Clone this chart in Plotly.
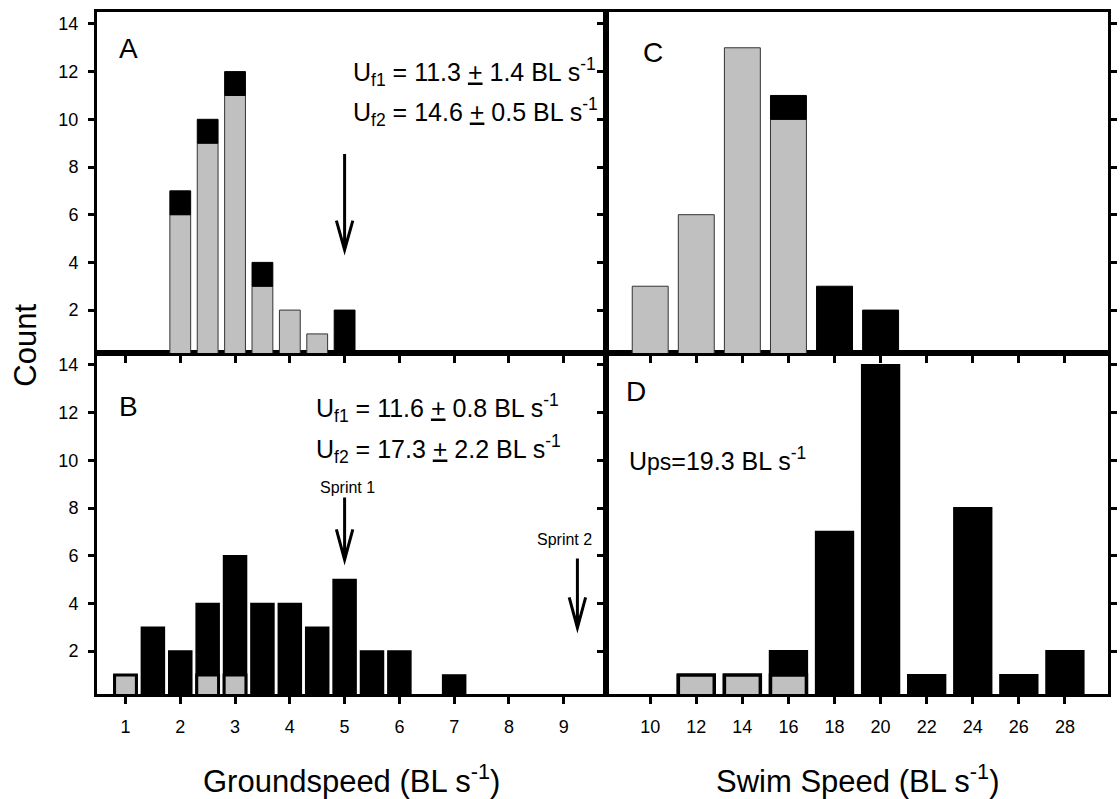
import plotly.graph_objects as go

# ---------------- data ----------------
# Panel A: groundspeed histogram (grey = first group, black = second group, stacked)
a_speed = [2, 2.5, 3, 3.5, 4, 4.5, 5]
a_grey = [6, 9, 11, 3, 2, 1, 0]
a_black = [1, 1, 1, 1, 0, 0, 2]

# Panel B: groundspeed histogram (black = total, grey = overlaid subset)
b_speed = [1, 1.5, 2, 2.5, 3, 3.5, 4, 4.5, 5, 5.5, 6, 7]
b_total = [1, 3, 2, 4, 6, 4, 4, 3, 5, 2, 2, 1]
b_grey = [1, 0, 0, 1, 1, 0, 0, 0, 0, 0, 0, 0]

# Panel C: swim speed histogram (stacked)
c_speed = [10, 12, 14, 16, 18, 20]
c_grey = [3, 6, 13, 10, 0, 0]
c_black = [0, 0, 0, 1, 3, 2]

# Panel D: swim speed histogram (black = total, grey = overlaid subset)
d_speed = [12, 14, 16, 18, 20, 22, 24, 26, 28]
d_total = [1, 1, 2, 7, 14, 1, 8, 1, 2]
d_grey = [1, 1, 1, 0, 0, 0, 0, 0, 0]

ground_ticks = [1, 2, 3, 4, 5, 6, 7, 8, 9]
swim_ticks = [10, 12, 14, 16, 18, 20, 22, 24, 26, 28]
count_ticks = [2, 4, 6, 8, 10, 12, 14]

GREY = "#c0c0c0"
FONT = "Liberation Sans, Arial, Helvetica, sans-serif"


def nonzero(xs, ys, base=None):
    keep = [i for i, v in enumerate(ys) if v > 0]
    out = dict(x=[xs[i] for i in keep], y=[ys[i] for i in keep])
    if base is not None:
        out["base"] = [base[i] for i in keep]
    return out


fig = go.Figure()

# ---- panel A (x2, y2): stacked grey + black ----
fig.add_trace(go.Bar(**nonzero(a_speed, a_grey), width=0.38, xaxis="x2", yaxis="y2",
                     marker=dict(color=GREY, line=dict(color="#333333", width=1))))
fig.add_trace(go.Bar(**nonzero(a_speed, a_black, base=a_grey), width=0.38, xaxis="x2", yaxis="y2",
                     marker=dict(color="black", line=dict(color="black", width=1))))

# ---- panel B (x, y): black totals with grey overlay ----
fig.add_trace(go.Bar(**nonzero(b_speed, b_total), width=0.42, xaxis="x", yaxis="y",
                     marker=dict(color="black", line=dict(color="black", width=1.5))))
fig.add_trace(go.Bar(**nonzero(b_speed, b_grey), width=0.398, xaxis="x", yaxis="y",
                     marker=dict(color=GREY, line=dict(color="black", width=3))))

# ---- panel C (x4, y4): stacked grey + black ----
fig.add_trace(go.Bar(**nonzero(c_speed, c_grey), width=1.56, xaxis="x4", yaxis="y4",
                     marker=dict(color=GREY, line=dict(color="#333333", width=1))))
fig.add_trace(go.Bar(**nonzero(c_speed, c_black, base=c_grey), width=1.56, xaxis="x4", yaxis="y4",
                     marker=dict(color="black", line=dict(color="black", width=1))))

# ---- panel D (x3, y3): black totals with grey overlay ----
fig.add_trace(go.Bar(**nonzero(d_speed, d_total), width=1.62, xaxis="x3", yaxis="y3",
                     marker=dict(color="black", line=dict(color="black", width=2))))
fig.add_trace(go.Bar(**nonzero(d_speed, d_grey), width=1.56, xaxis="x3", yaxis="y3",
                     marker=dict(color=GREY, line=dict(color="black", width=3.5))))

# ---------------- axes ----------------
SPLIT = 0.5039
YR = [0.2, 14.5]
tickfont = dict(family=FONT, size=18, color="black")
common = dict(showline=True, linecolor="black", linewidth=3, ticks="outside",
              tickcolor="black", tickwidth=2.5, showgrid=False, zeroline=False,
              tickfont=tickfont)

fig.update_layout(
    xaxis=dict(common, domain=[0, SPLIT], anchor="y", range=[0.48, 9.78],
               tickvals=ground_ticks, ticklen=7, mirror=True, ticklabelstandoff=7),
    yaxis=dict(common, domain=[0, 0.5], anchor="x", range=YR, tickvals=count_ticks,
               ticklen=6, mirror=True, ticklabelstandoff=6),
    xaxis2=dict(common, domain=[0, SPLIT], anchor="y2", range=[0.48, 9.78],
                tickvals=ground_ticks, ticklen=7, mirror=True, showticklabels=False),
    yaxis2=dict(common, domain=[0.5, 1], anchor="x2", range=YR, tickvals=count_ticks,
                ticklen=6, mirror=True, ticklabelstandoff=6),
    xaxis3=dict(common, domain=[SPLIT, 1], anchor="y3", range=[8.1, 29.87],
                tickvals=swim_ticks, ticklen=7, mirror=True, ticklabelstandoff=7),
    yaxis3=dict(common, domain=[0, 0.5], anchor="x3", range=YR, tickvals=count_ticks,
                ticklen=6, mirror="ticks", showticklabels=False),
    xaxis4=dict(common, domain=[SPLIT, 1], anchor="y4", range=[8.1, 29.87],
                tickvals=swim_ticks, ticklen=7, mirror=True, showticklabels=False),
    yaxis4=dict(common, domain=[0.5, 1], anchor="x4", range=YR, tickvals=count_ticks,
                ticklen=6, mirror="ticks", showticklabels=False),
)

# ---------------- arrows (V-headed) ----------------
# (xref, yref, x, tail y, tip y, head half-width in x units, head height in y units)
arrows = [
    ("x2", "y2", 5.0, 8.54, 4.52, 0.15, 1.23),
    ("x", "y", 5.0, 8.44, 5.83, 0.15, 1.27),
    ("x", "y", 9.25, 5.88, 2.98, 0.15, 1.27),
]
shapes = []
for xr, yr, x, y0, y1, hw, hh in arrows:
    path = (f"M {x},{y0} L {x},{y1} "
            f"M {x - hw},{y1 + hh} L {x},{y1} L {x + hw},{y1 + hh}")
    shapes.append(dict(type="path", xref=xr, yref=yr, path=path,
                       line=dict(color="black", width=3)))
fig.update_layout(shapes=shapes)

# ---------------- text ----------------
ann = []


def txt(text, x, y, xref, yref, size, xanchor="center", yanchor="middle", angle=0):
    ann.append(dict(text=text, x=x, y=y, xref=xref, yref=yref, showarrow=False,
                    xanchor=xanchor, yanchor=yanchor, textangle=angle,
                    font=dict(family=FONT, size=size, color="black")))


# panel letters
txt("A", 1.05, 12.95, "x2", "y2", 28)
txt("B", 1.05, 12.25, "x", "y", 28)
txt("C", 10.1, 12.8, "x4", "y4", 28)
txt("D", 9.4, 12.9, "x3", "y3", 28)

# velocity statistics
txt("U<sub>f1</sub> = 11.3 <u>+</u> 1.4 BL s<sup>-1</sup>", 5.11, 12.0, "x2", "y2", 25, xanchor="left")
txt("U<sub>f2</sub> = 14.6 <u>+</u> 0.5 BL s<sup>-1</sup>", 5.11, 10.3, "x2", "y2", 25, xanchor="left")
txt("U<sub>f1</sub> = 11.6 <u>+</u> 0.8 BL s<sup>-1</sup>", 4.45, 12.18, "x", "y", 25, xanchor="left")
txt("U<sub>f2</sub> = 17.3 <u>+</u> 2.2 BL s<sup>-1</sup>", 4.45, 10.48, "x", "y", 25, xanchor="left")
txt("U<span style='font-size:23px'>ps</span>=19.3 BL s<sup>-1</sup>", 8.99, 10.07, "x3", "y3", 25,
    xanchor="left")

# sprint labels
txt("Sprint 1", 5.05, 8.88, "x", "y", 16)
txt("Sprint 2", 9.02, 6.68, "x", "y", 16)

# axis titles
txt("Count", -0.0716, 0.5117, "paper", "paper", 31, angle=-90)
txt("Groundspeed (BL s<sup>-1</sup>)", 0.2515, -0.124, "paper", "paper", 31)
txt("Swim Speed (BL s<sup>-1</sup>)", 0.7520, -0.124, "paper", "paper", 31)

fig.update_layout(
    annotations=ann,
    barmode="overlay",
    showlegend=False,
    width=1120, height=799,
    margin=dict(l=97, r=3, t=12, b=105),
    paper_bgcolor="white", plot_bgcolor="white",
    font=dict(family=FONT, color="black"),
)

fig.write_html("out.html")
